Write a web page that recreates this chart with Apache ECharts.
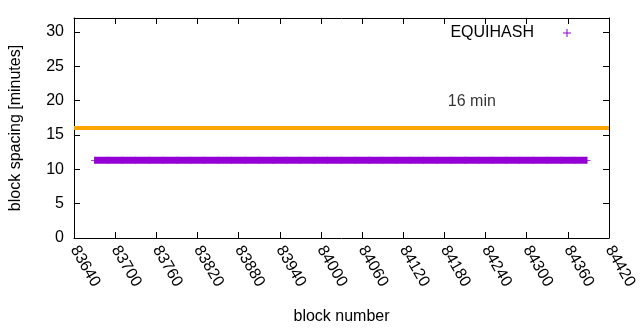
<!DOCTYPE html>
<html><head><meta charset="utf-8">
<script src="https://cdn.jsdelivr.net/npm/echarts@6/dist/echarts.min.js"></script>
<style>html,body{margin:0;padding:0;background:#fff}#c{width:640px;height:330px}</style>
</head><body><div id="c"></div>
<script>
var blocks = [83670,83690,83710,83730,83750,83770,83790,83810,83830,83850,83870,83890,83910,83930,83950,83970,83990,84010,84030,84050,84070,84090,84110,84130,84150,84170,84190,84210,84230,84250,84270,84290,84310,84330,84350,84370,84388];
var spacing = [11.3,11.3,11.3,11.3,11.3,11.3,11.3,11.3,11.3,11.3,11.3,11.3,11.3,11.3,11.3,11.3,11.3,11.3,11.3,11.3,11.3,11.3,11.3,11.3,11.3,11.3,11.3,11.3,11.3,11.3,11.3,11.3,11.3,11.3,11.3,11.3,11.3];
var targetX = [83640, 84420];
var targetY = [16, 16];
var targetLabel = "16 min";
var targetLabelPos = [84185, 19.8];
var seriesName = "EQUIHASH";

var font = "Liberation Sans";
var fs = 16;
var plus = 'path://M0,3.5H8V4.5H0Z M3.5,0H4.5V8H3.5Z';
var chart = echarts.init(document.getElementById('c'));
var axisCommon = {
  axisLine:{show:true,onZero:false,lineStyle:{color:'#000',width:1}},
  axisTick:{show:true,inside:true,length:6,lineStyle:{color:'#000'}},
  splitLine:{show:false}
};
function yfmt(v){ return (v % 5 === 0) ? String(v) : ''; }
chart.setOption({
  animation:false,
  grid:{left:73,right:31,top:18,bottom:92},
  legend:{
    data:[{name:seriesName,icon:plus}],
    right:64, top:20, align:'right', itemWidth:8, itemHeight:8,
    textStyle:{fontFamily:font,fontSize:fs,color:'#000',padding:[0,24,0,0]}
  },
  xAxis:[
    Object.assign({type:'value',min:83640,max:84420,interval:60,position:'bottom',
      name:'block number',nameLocation:'middle',nameGap:71,
      nameTextStyle:{fontFamily:font,fontSize:fs,color:'#000'},
      axisLabel:{rotate:-60,margin:9,fontFamily:font,fontSize:fs,color:'#000',
        formatter:function(v){return String(v);}}},axisCommon),
    Object.assign({type:'value',min:83640,max:84420,interval:60,position:'top',
      axisLabel:{show:false}},axisCommon)
  ],
  yAxis:[
    Object.assign({type:'value',min:0,max:32,interval:5,position:'left',
      name:'block spacing [minutes]',nameLocation:'middle',nameGap:50,
      nameTextStyle:{fontFamily:font,fontSize:fs,color:'#000'},
      axisLabel:{margin:10,fontFamily:font,fontSize:fs,color:'#000',formatter:yfmt}},axisCommon),
    Object.assign({type:'value',min:0,max:32,interval:5,position:'right',
      axisLabel:{show:false}},axisCommon)
  ],
  series:[
    {type:'line',name:'target',data:targetX.map(function(x,i){return [x,targetY[i]];}),
     symbol:'none',lineStyle:{color:'#ffa500',width:4},z:2},
    {type:'line',name:seriesName,data:blocks.map(function(x,i){return [x,spacing[i]];}),
     symbol:plus,symbolSize:7,showSymbol:true,
     itemStyle:{color:'#9400d3'},lineStyle:{color:'#9400d3',width:7},z:3},
    {type:'scatter',name:'label',data:[targetLabelPos],symbolSize:0,
     label:{show:true,position:'right',distance:0,formatter:targetLabel,
       fontFamily:font,fontSize:fs,color:'#000'}}
  ]
});
</script></body></html>
